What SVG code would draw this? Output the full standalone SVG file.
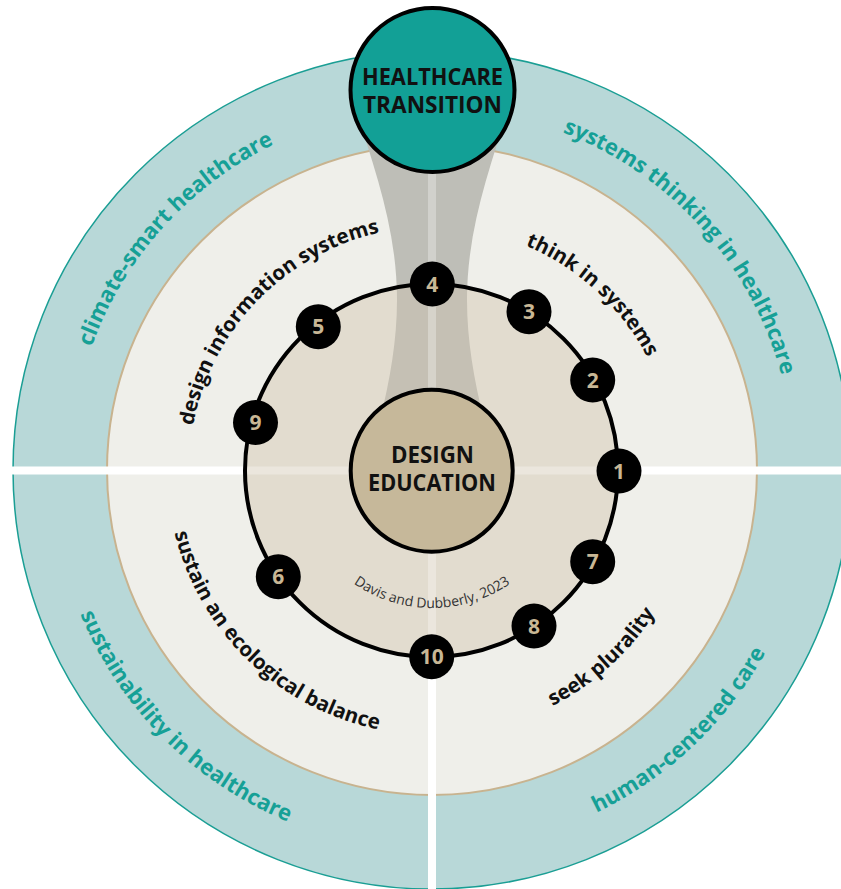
<svg xmlns="http://www.w3.org/2000/svg" xmlns:xlink="http://www.w3.org/1999/xlink" width="841" height="889" viewBox="0 0 841 889">
<style>
.outer{font-family:"Open Sans","Noto Sans","DejaVu Sans",sans-serif;font-weight:700;font-size:22px;fill:#16a096}
.inner{font-family:"Open Sans","Noto Sans","DejaVu Sans",sans-serif;font-weight:700;font-size:20.5px;fill:#111}
.num{font-family:"Open Sans","Noto Sans","DejaVu Sans",sans-serif;font-weight:700;font-size:21px;fill:#c8b795;text-anchor:middle}
.big{font-family:"Open Sans","Noto Sans","DejaVu Sans",sans-serif;font-weight:700;font-size:23.5px;fill:#111;text-anchor:middle}
.cite{font-family:"Open Sans","Noto Sans","DejaVu Sans",sans-serif;font-size:14px;fill:#333}
.node{fill:#000}
</style>
<defs>
<path id="pClimate" d="M 73.5 520.4 A 362 362 0 0 1 444.6 108.2"/>
<path id="pSystems" d="M 419.4 108.2 A 362 362 0 0 1 790.5 520.4"/>
<path id="pSustain" d="M 53.4 436.9 A 380 380 0 0 0 465.1 848.6"/>
<path id="pHuman" d="M 389 847.6 A 380 380 0 0 0 811.3 446.8"/>
<path id="pDesign" d="M 190.3 495.4 A 243 243 0 0 1 449 227.6"/>
<path id="pThink" d="M 400.3 229.1 A 243 243 0 0 1 674.8 480.6"/>
<path id="pEco" d="M 167.6 451.5 A 265 265 0 0 0 459.7 733.5"/>
<path id="pSeek" d="M 396 732.5 A 265 265 0 0 0 696.8 459.8"/>
<path id="pCite" d="M 312.5 539 A 138 138 0 0 0 551.5 539"/>
<path id="funnel" d="M 356 110 C 375 170, 397 230, 397 300 C 397 340, 390 380, 380 420 L 484 420 C 474 380, 467 340, 467 300 C 467 230, 489 170, 508 110 Z"/>
<clipPath id="ringClip"><circle cx="431.5" cy="470.5" r="186.5"/></clipPath>
</defs>

<g id="background">
<circle cx="432" cy="470" r="419" fill="#b8d8d8" stroke="#1a9e94" stroke-width="1.5"/>
<circle cx="432" cy="470" r="325" fill="#efefea" stroke="#c8b38f" stroke-width="2"/>
<use xlink:href="#funnel" fill="#bebeb7"/>
<circle cx="431.5" cy="470.5" r="186.5" fill="#e2dccf"/>
<use xlink:href="#funnel" fill="#c5c0b4" clip-path="url(#ringClip)"/>
</g>

<g id="dividers" stroke="#ffffff" stroke-width="8" fill="none">
<line x1="0" y1="470.5" x2="245" y2="470.5"/>
<line x1="619" y1="470.5" x2="841" y2="470.5"/>
<line x1="432" y1="657" x2="432" y2="889"/>
<line x1="245" y1="470.5" x2="619" y2="470.5" stroke-opacity="0.3"/>
<line x1="432" y1="170" x2="432" y2="657" stroke-opacity="0.3"/>
</g>

<g id="connectors">
<circle cx="431.5" cy="470.5" r="186.5" fill="none" stroke="#000" stroke-width="4"/>
</g>

<g id="outer-labels" class="outer">
<text><textPath xlink:href="#pClimate" startOffset="50%" text-anchor="middle">climate-smart healthcare</textPath></text>
<text><textPath xlink:href="#pSystems" startOffset="50%" text-anchor="middle">systems thinking in healthcare</textPath></text>
<text><textPath xlink:href="#pSustain" startOffset="50%" text-anchor="middle">sustainability in healthcare</textPath></text>
<text><textPath xlink:href="#pHuman" startOffset="50%" text-anchor="middle">human-centered care</textPath></text>
</g>

<g id="inner-labels" class="inner">
<text><textPath xlink:href="#pDesign" startOffset="50%" text-anchor="middle">design information systems</textPath></text>
<text><textPath xlink:href="#pThink" startOffset="50%" text-anchor="middle">think in systems</textPath></text>
<text><textPath xlink:href="#pEco" startOffset="50%" text-anchor="middle">sustain an ecological balance</textPath></text>
<text><textPath xlink:href="#pSeek" startOffset="50%" text-anchor="middle">seek plurality</textPath></text>
</g>

<g id="citation" class="cite">
<text><textPath xlink:href="#pCite" startOffset="50%" text-anchor="middle">Davis and Dubberly, 2023</textPath></text>
</g>

<g id="node-1"><circle class="node" cx="619" cy="471" r="22.5"/><text class="num" x="619" y="478.5">1</text></g>
<g id="node-2"><circle class="node" cx="592.7" cy="380" r="22.5"/><text class="num" x="592.7" y="387.5">2</text></g>
<g id="node-3"><circle class="node" cx="529" cy="311.7" r="22.5"/><text class="num" x="529" y="319.2">3</text></g>
<g id="node-4"><circle class="node" cx="432.3" cy="284" r="22.5"/><text class="num" x="432.3" y="291.5">4</text></g>
<g id="node-5"><circle class="node" cx="318.3" cy="326.7" r="22.5"/><text class="num" x="318.3" y="334.2">5</text></g>
<g id="node-9"><circle class="node" cx="255.5" cy="422.5" r="22.5"/><text class="num" x="255.5" y="430">9</text></g>
<g id="node-6"><circle class="node" cx="278.3" cy="576.7" r="22.5"/><text class="num" x="278.3" y="584.2">6</text></g>
<g id="node-10"><circle class="node" cx="431.7" cy="656.7" r="22.5"/><text class="num" x="431.7" y="664.2">10</text></g>
<g id="node-8"><circle class="node" cx="534" cy="626" r="22.5"/><text class="num" x="534" y="633.5">8</text></g>
<g id="node-7"><circle class="node" cx="592.7" cy="561.7" r="22.5"/><text class="num" x="592.7" y="569.2">7</text></g>

<g id="design-education">
<circle cx="431.7" cy="470.7" r="81" fill="#c6b89a" stroke="#000" stroke-width="4"/>
<text class="big" x="432.5" y="462.7" textLength="83" lengthAdjust="spacingAndGlyphs">DESIGN</text>
<text class="big" x="432" y="491" textLength="128" lengthAdjust="spacingAndGlyphs">EDUCATION</text>
</g>

<g id="healthcare-transition">
<circle cx="432.5" cy="90" r="82" fill="#12a096" stroke="#000" stroke-width="4"/>
<text class="big" x="432.5" y="85" textLength="141" lengthAdjust="spacingAndGlyphs">HEALTHCARE</text>
<text class="big" x="432.5" y="113" textLength="139" lengthAdjust="spacingAndGlyphs">TRANSITION</text>
</g>
</svg>
